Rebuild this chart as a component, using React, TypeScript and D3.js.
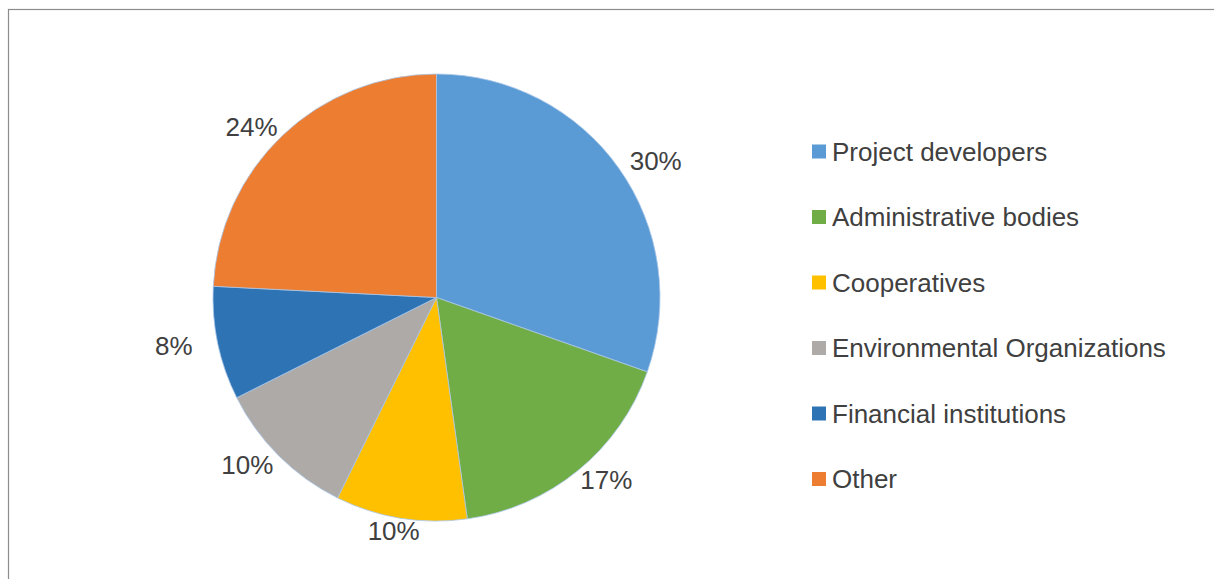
import React, { useEffect, useRef } from 'react';
import * as d3 from 'd3';

const categories = [
  'Project developers',
  'Administrative bodies',
  'Cooperatives',
  'Environmental Organizations',
  'Financial institutions',
  'Other',
];
const shares = [30.4, 17.4, 9.5, 10.3, 8.2, 24.2];
const shareLabels = ['30%', '17%', '10%', '10%', '8%', '24%'];
const colors = ['#5B9BD5', '#70AD47', '#FFC000', '#ADAAA8', '#2E74B5', '#ED7D31'];

const W = 1214;
const H = 579;

const App = () => {
  const ref = useRef<SVGSVGElement | null>(null);

  useEffect(() => {
    if (!ref.current) return;
    const svg = d3.select(ref.current);
    svg.selectAll('*').remove();

    // chart frame (runs off the right and bottom edges)
    svg.append('rect')
      .attr('x', 8.5)
      .attr('y', 9.5)
      .attr('width', 1240)
      .attr('height', 620)
      .attr('fill', '#fff')
      .attr('stroke', '#8c8c8c')
      .attr('stroke-width', 1.2);

    const cx = 436.5;
    const cy = 297.5;
    const r = 223.5;

    const data = categories.map((c, i) => ({ name: c, value: shares[i], label: shareLabels[i], color: colors[i] }));
    const pie = d3.pie<any>().sort(null).value(d => d.value);
    const arcs = pie(data);
    const arc = d3.arc<any>().innerRadius(0).outerRadius(r);

    // labels sit outside the rim, a bit wider sideways than up/down (text is wider than tall)
    const labelPos = (d: any) => {
      const a = (d.startAngle + d.endAngle) / 2;
      return [Math.sin(a) * (r + 45), -Math.cos(a) * (r + 12.5)];
    };

    const g = svg.append('g').attr('transform', `translate(${cx},${cy})`);

    g.selectAll('path.slice')
      .data(arcs)
      .enter().append('path')
      .attr('class', 'slice')
      .attr('d', arc)
      .attr('fill', d => d.data.color)
      .attr('stroke', '#a9c7e8')
      .attr('stroke-width', 0.8);

    g.selectAll('text.pct')
      .data(arcs)
      .enter().append('text')
      .attr('class', 'pct')
      .attr('transform', d => `translate(${labelPos(d)})`)
      .attr('text-anchor', 'middle')
      .attr('dy', '0.35em')
      .attr('font-family', 'Liberation Sans, Arial, sans-serif')
      .attr('font-size', 26)
      .attr('fill', '#404040')
      .text(d => d.data.label);

    const legendY = d3.scalePoint<string>()
      .domain(categories)
      .range([151.5, 479]);

    const legend = svg.append('g')
      .selectAll('g')
      .data(data)
      .enter().append('g')
      .attr('transform', d => `translate(812,${legendY(d.name)})`);

    legend.append('rect')
      .attr('x', 0)
      .attr('y', -7)
      .attr('width', 14)
      .attr('height', 14)
      .attr('fill', d => d.color);

    legend.append('text')
      .attr('x', 20)
      .attr('y', 0)
      .attr('dy', '0.35em')
      .attr('font-family', 'Liberation Sans, Arial, sans-serif')
      .attr('font-size', 26)
      .attr('fill', '#404040')
      .text(d => d.name);
  }, []);

  return (
    <svg
      ref={ref}
      width={W}
      height={H}
      style={{ position: 'absolute', left: 0, top: 0, background: '#fff' }}
    />
  );
};

export default App;
